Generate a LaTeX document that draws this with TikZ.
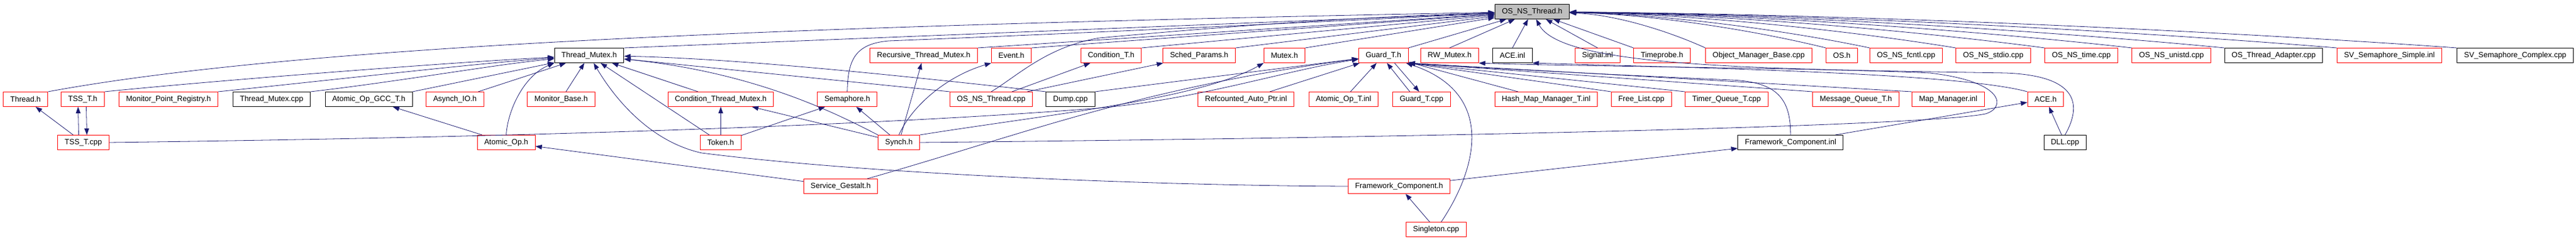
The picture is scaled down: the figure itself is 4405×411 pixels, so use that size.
\documentclass[tikz,border=0pt]{standalone}
\usepackage{fontspec}
\setmainfont{Liberation Sans}
\usepackage{tikz}
\usetikzlibrary{
    arrows.meta            % Modern arrow tips
}
\definecolor{incblue}{HTML}{191970}
\definecolor{maingray}{HTML}{BFBFBF}

\begin{document}
\begin{tikzpicture}[x=1pt,y=1pt,
    filebox/.style={rectangle,draw,line width=1pt,fill=white,inner xsep=12pt,inner ysep=0pt,
        minimum height=25pt,font=\fontsize{13}{15}\selectfont},
    redbox/.style={filebox,draw=red},
    blackbox/.style={filebox,draw=black},
    mainbox/.style={filebox,draw=black,fill=maingray},
    incl/.style={draw=incblue,line width=0.8pt,-{Triangle[length=11pt,width=8pt]}}]
    \useasboundingbox (0,0) rectangle (4405,-411);

    \node[mainbox] (osnth) at (2620,-20) {OS\_NS\_Thread.h};

    \node[blackbox] (tmh) at (1007.5,-95) {Thread\_Mutex.h};
    \node[redbox] (rtmh) at (1579.5,-95) {Recursive\_Thread\_Mutex.h};
    \node[redbox] (eventh) at (1729.5,-95) {Event.h};
    \node[redbox] (condth) at (1900,-95) {Condition\_T.h};
    \node[redbox] (schedh) at (2050.6,-95) {Sched\_Params.h};
    \node[redbox] (mutexh) at (2196.4,-95) {Mutex.h};
    \node[redbox] (guardh) at (2365.7,-95) {Guard\_T.h};
    \node[redbox] (rwmh) at (2478.8,-95) {RW\_Mutex.h};
    \node[blackbox] (aceinl) at (2586.3,-95) {ACE.inl};
    \node[redbox] (signalinl) at (2731.8,-95) {Signal.inl};
    \node[redbox] (timeprobeh) at (2842,-95) {Timeprobe.h};
    \node[redbox] (ombcpp) at (3007.4,-95) {Object\_Manager\_Base.cpp};
    \node[redbox] (osh) at (3149.5,-95) {OS.h};
    \node[redbox] (fcntlcpp) at (3259.4,-95) {OS\_NS\_fcntl.cpp};
    \node[redbox] (stdiocpp) at (3408.4,-95) {OS\_NS\_stdio.cpp};
    \node[redbox] (timecpp) at (3559,-95) {OS\_NS\_time.cpp};
    \node[redbox] (unistdcpp) at (3713.2,-95) {OS\_NS\_unistd.cpp};
    \node[blackbox] (adaptercpp) at (3888,-95) {OS\_Thread\_Adapter.cpp};
    \node[redbox] (svsinl) at (4085.9,-95) {SV\_Semaphore\_Simple.inl};
    \node[blackbox] (svccpp) at (4301,-95) {SV\_Semaphore\_Complex.cpp};

    \node[redbox] (threadh) at (43.7,-170) {Thread.h};
    \node[redbox] (tssh) at (141.5,-170) {TSS\_T.h};
    \node[redbox] (mprh) at (288,-170) {Monitor\_Point\_Registry.h};
    \node[blackbox] (tmcpp) at (464.5,-170) {Thread\_Mutex.cpp};
    \node[blackbox] (gcch) at (630.5,-170) {Atomic\_Op\_GCC\_T.h};
    \node[redbox] (asynchh) at (778,-170) {Asynch\_IO.h};
    \node[redbox] (monbaseh) at (959.5,-170) {Monitor\_Base.h};
    \node[redbox] (ctmh) at (1232.5,-170) {Condition\_Thread\_Mutex.h};
    \node[redbox] (semh) at (1448.8,-170) {Semaphore.h};
    \node[redbox] (osntcpp) at (1695,-170) {OS\_NS\_Thread.cpp};
    \node[blackbox] (dumpcpp) at (1830.5,-170) {Dump.cpp};
    \node[redbox] (rcapinl) at (2130.7,-170) {Refcounted\_Auto\_Ptr.inl};
    \node[redbox] (aotinl) at (2297.5,-170) {Atomic\_Op\_T.inl};
    \node[redbox] (guardcpp) at (2430.8,-170) {Guard\_T.cpp};
    \node[redbox] (hmminl) at (2643.9,-170) {Hash\_Map\_Manager\_T.inl};
    \node[redbox] (flcpp) at (2806.6,-170) {Free\_List.cpp};
    \node[redbox] (tqcpp) at (2952.5,-170) {Timer\_Queue\_T.cpp};
    \node[redbox] (mqh) at (3173.5,-170) {Message\_Queue\_T.h};
    \node[redbox] (mminl) at (3331.4,-170) {Map\_Manager.inl};
    \node[redbox] (aceh) at (3497.9,-170) {ACE.h};

    \node[redbox] (tsscpp) at (142.5,-244) {TSS\_T.cpp};
    \node[redbox] (aoph) at (865.6,-244) {Atomic\_Op.h};
    \node[redbox] (tokenh) at (1232.4,-244) {Token.h};
    \node[redbox] (synchh) at (1537.1,-244) {Synch.h};
    \node[blackbox] (fcinl) at (3061.9,-244) {Framework\_Component.inl};
    \node[blackbox] (dllcpp) at (3531.2,-244) {DLL.cpp};

    \node[redbox] (sgh) at (1437.5,-319) {Service\_Gestalt.h};
    \node[redbox] (fch) at (2392.4,-319) {Framework\_Component.h};

    \node[redbox] (singcpp) at (2455.8,-393) {Singleton.cpp};

    \draw[incl] (threadh.north east) .. controls (500,-80) and (1300,-45) .. (osnth);
    \draw[incl] (tmh.north east) -- (osnth);
    \draw[incl] (semh.north) .. controls (1450,-105) and (1460,-75) .. (1520,-70)
        .. controls (1900,-55) and (2300,-35) .. (osnth);
    \draw[incl] (rtmh.north east) -- (osnth);
    \draw[incl] (eventh.north east) -- (osnth);
    \draw[incl] (osntcpp.north) .. controls (1740,-130) and (1790,-80) .. (1880,-65)
        .. controls (2100,-45) and (2300,-30) .. (osnth);
    \draw[incl] (condth.north east) -- (osnth);
    \draw[incl] (schedh.north east) -- (osnth);
    \draw[incl] (mutexh.north east) -- (osnth);
    \draw[incl] (guardh.north east) -- (osnth);
    \draw[incl] (rwmh.north) -- (osnth);
    \draw[incl] (aceinl.north) -- (osnth);
    \draw[incl] (signalinl.north) -- (osnth);
    \draw[incl] (timeprobeh.north west) -- (osnth);
    \foreach \f/\ax/\bx in {ombcpp/2857/2765,osh/3013/2838,fcntlcpp/3069/2864,
        stdiocpp/3179/2915,timecpp/3293/2968,unistdcpp/3405/3021,
        adaptercpp/3524/3076,svsinl/3668/3143,svccpp/3821/3215}
        \draw[incl] (\f.north west) .. controls (\ax,-55) and (\bx,-25) .. (osnth);
    \draw[incl] (dllcpp.north) .. controls (3560,-180) and (3555,-130) .. (3430,-125)
        .. controls (3000,-118) and (2670,-115) .. (osnth);

    \draw[incl] (tssh.north east) .. controls (400,-135) and (800,-105) .. (tmh);
    \draw[incl] (mprh.north east) .. controls (560,-138) and (820,-108) .. (tmh);
    \draw[incl] (tmcpp.north east) .. controls (680,-140) and (850,-110) .. (tmh);
    \draw[incl] (gcch.north east) -- (tmh);
    \draw[incl] (asynchh) -- (tmh);
    \draw[incl] (aoph.north) .. controls (868,-190) and (895,-130) .. (tmh.south west);
    \draw[incl] (monbaseh) -- (tmh);
    \draw[incl] (ctmh) -- (tmh);
    \draw[incl] (tokenh) -- (tmh);
    \draw[incl] (fch.west) .. controls (2000,-318) and (1500,-300) .. (1200,-262)
        .. controls (1100,-240) and (1040,-150) .. (tmh);
    \draw[incl] (synchh.north west) .. controls (1440,-200) and (1300,-125) .. (tmh);
    \draw[incl] (dumpcpp.north west) .. controls (1500,-125) and (1250,-100) .. (tmh);
    \draw[incl] (osntcpp.north west) -- (tmh);

    \draw[incl] (aoph) -- (gcch);
    \draw[incl] (sgh) -- (aoph);
    \draw[incl] (tokenh) -- (ctmh);
    \draw[incl] (synchh) -- (ctmh);
    \draw[incl] (tokenh) -- (semh);
    \draw[incl] (synchh) -- (semh);
    \draw[incl] (synchh) -- (rtmh);
    \draw[incl] (synchh.north) .. controls (1560,-180) and (1620,-130) .. (eventh.south west);
    \draw[incl] (synchh.north east) .. controls (1800,-195) and (2050,-170) .. (mutexh.south west);
    \draw[incl] (osntcpp) -- (condth);
    \draw[incl] (osntcpp) -- (schedh);
    \draw[incl] (synchh.east) .. controls (2500,-235) and (3300,-215) .. (3395,-195)
        .. controls (3430,-185) and (3430,-140) .. (3300,-125)
        .. controls (3100,-116) and (2700,-114) .. (rwmh.south east);

    \draw[incl] (tsscpp.east) .. controls (900,-235) and (1500,-215) .. (1880,-185)
        .. controls (2050,-170) and (2200,-120) .. (guardh);
    \draw[incl] (dumpcpp.north east) -- (guardh);
    \draw[incl] (sgh) .. controls (1750,-230) and (1950,-150) .. (guardh);
    \draw[incl] (rcapinl) -- (guardh);
    \draw[incl] (aotinl) -- (guardh);
    \draw[incl] ([xshift=-20pt]guardcpp.north) -- ([xshift=6pt]guardh.south);
    \draw[incl] ([xshift=19pt]guardh.south) -- ([xshift=-4pt]guardcpp.north);
    \draw[incl] (hmminl) -- (guardh);
    \foreach \f in {flcpp,tqcpp,mqh,mminl}
        \draw[incl] (\f.north west) -- (guardh.south east);
    \draw[incl] (fcinl.north) .. controls (3062,-170) and (3040,-140) .. (2960,-137)
        .. controls (2800,-130) and (2500,-115) .. (guardh.south east);
    \draw[incl] (singcpp) .. controls (2525,-290) and (2560,-160) .. (guardh);

    \draw[incl] (singcpp) -- (fch);
    \draw[incl] (fch) -- (fcinl);
    \draw[incl] (fcinl) -- (aceh);
    \draw[incl] (dllcpp) -- (aceh);
    \draw[incl] (aceh.north west) .. controls (3350,-125) and (2900,-116) .. (aceinl.south east);

    \draw[incl] (tsscpp) -- (threadh);
    \draw[incl] ([xshift=-8pt]tsscpp.north) -- ([xshift=-8pt]tssh.south);
    \draw[incl] ([xshift=6pt]tssh.south) -- ([xshift=6pt]tsscpp.north);
\end{tikzpicture}
\end{document}
